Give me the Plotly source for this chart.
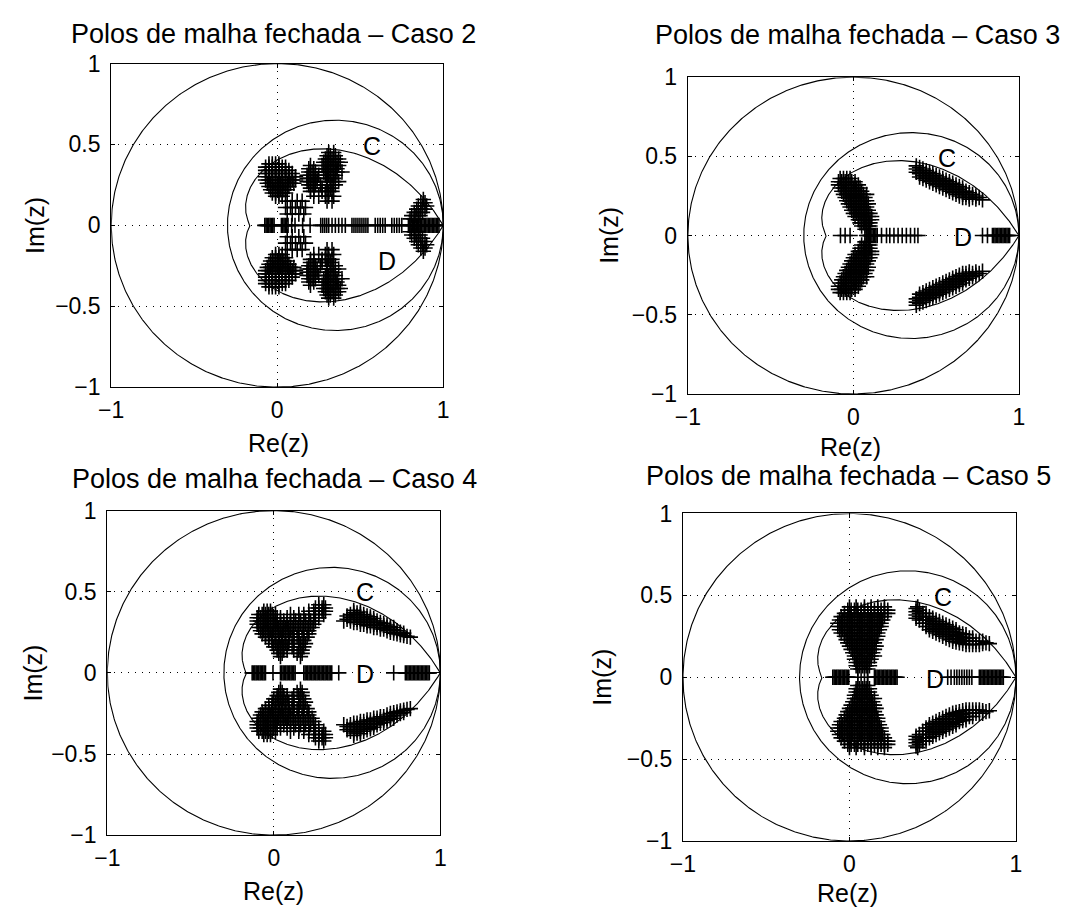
import numpy as np
import plotly.graph_objects as go

W, H = 1076, 923

# ---------------- text / ticks ----------------
case_names = ["Caso 2", "Caso 3", "Caso 4", "Caso 5"]
title_prefix = "Polos de malha fechada – "
x_label = "Re(z)"
y_label = "Im(z)"
x_tickvals = [-1, 0, 1]
x_ticktext = ["−1", "0", "1"]
y_tickvals = [-1, -0.5, 0, 0.5, 1]
y_ticktext = ["−1", "−0.5", "0", "0.5", "1"]

# ---------------- region boundaries ----------------
disk_C_center = 0.35
disk_C_radius = 0.65
zeta_D = 0.5

# region labels (Re, Im) per case
label_C = [(0.57, 0.49), (0.565, 0.49), (0.55, 0.50), (0.56, 0.49)]
label_D = [(0.66, -0.22), (0.66, -0.01), (0.55, -0.01), (0.515, -0.01)]

# ---------------- closed-loop poles ----------------
# rows: (Im, [Re...]) upper half-plane, cols: (Re, [Im...]); conjugates are added
case2_rows = [
    (0.38, [-0.05, -0.03, -0.01, 0.01]),
    (0.36, [-0.07, -0.05, -0.03, -0.01, 0.01, 0.03, 0.05]),
    (0.34, [-0.07, -0.05, -0.03, -0.01, 0.01, 0.03, 0.05, 0.07]),
    (0.32, [-0.07, -0.05, -0.03, -0.01, 0.01, 0.03, 0.05, 0.07, 0.09]),
    (0.30, [-0.07, -0.05, -0.03, -0.01, 0.01, 0.03, 0.05, 0.07, 0.09, 0.11]),
    (0.28, [-0.07, -0.05, -0.03, -0.01, 0.01, 0.03, 0.05, 0.07, 0.09, 0.11]),
    (0.26, [-0.06, -0.04, -0.02, 0.0, 0.02, 0.04, 0.06, 0.08, 0.10]),
    (0.24, [-0.05, -0.03, -0.01, 0.01, 0.03, 0.05, 0.07]),
    (0.22, [-0.04, -0.02, 0.0, 0.02, 0.04, 0.06]),
    (0.20, [-0.03, -0.01, 0.01, 0.03, 0.05]),
    (0.18, [-0.01, 0.01, 0.03]),
    (0.45, [0.31, 0.34]),
    (0.43, [0.30, 0.32, 0.35]),
    (0.41, [0.29, 0.31, 0.33, 0.35, 0.37]),
    (0.39, [0.28, 0.30, 0.32, 0.34, 0.36, 0.38]),
    (0.37, [0.20, 0.27, 0.29, 0.31, 0.33, 0.35, 0.37]),
    (0.35, [0.19, 0.22, 0.28, 0.30, 0.32, 0.34, 0.36]),
    (0.33, [0.19, 0.21, 0.23, 0.28, 0.30, 0.32, 0.34, 0.36, 0.39]),
    (0.31, [0.18, 0.20, 0.22, 0.25, 0.29, 0.31, 0.33, 0.35]),
    (0.29, [0.18, 0.20, 0.22, 0.24, 0.30, 0.32, 0.34]),
    (0.27, [0.18, 0.20, 0.22, 0.24, 0.30, 0.32, 0.34, 0.37]),
    (0.25, [0.19, 0.21, 0.23, 0.26, 0.30, 0.33, 0.35]),
    (0.23, [0.20, 0.22, 0.27, 0.30, 0.32]),
    (0.21, [0.20, 0.22, 0.27, 0.29, 0.31, 0.33]),
    (0.18, [0.22, 0.25, 0.29, 0.31, 0.34]),
    (0.15, [0.30, 0.33]),
    (0.15, [0.06, 0.09, 0.12, 0.15]),
    (0.11, [0.05, 0.08, 0.11, 0.14, 0.17]),
    (0.07, [0.06, 0.09, 0.13, 0.16]),
    (0.16, [0.88]),
    (0.14, [0.865, 0.89]),
    (0.12, [0.85, 0.875, 0.90]),
    (0.10, [0.84, 0.865, 0.89]),
    (0.08, [0.825, 0.85, 0.875]),
    (0.06, [0.81, 0.835, 0.86]),
    (0.04, [0.80, 0.825, 0.85]),
]
case2_cols = []
case2_real = [-0.075, -0.067, -0.059, -0.051, -0.043, -0.035, -0.027, -0.019,
              0.025, 0.033, 0.041, 0.049, 0.057, 0.065, 0.087, 0.107, 0.153, 0.198,
              0.262, 0.274, 0.286, 0.298, 0.31, 0.33, 0.35, 0.37, 0.39, 0.41,
              0.45, 0.462, 0.474, 0.486, 0.498, 0.51, 0.522, 0.534, 0.546,
              0.59, 0.605, 0.62, 0.635, 0.65, 0.69, 0.705, 0.72, 0.735, 0.75,
              0.79, 0.798, 0.806, 0.814, 0.822, 0.83, 0.838, 0.846, 0.854, 0.862,
              0.87, 0.878, 0.886, 0.894, 0.902, 0.91, 0.918, 0.926, 0.934, 0.942,
              0.95, 0.958, 0.966, 0.974]

case3_rows = [
    (0.36, [-0.08, -0.06, -0.04, -0.02]),
    (0.34, [-0.09, -0.07, -0.05, -0.03, -0.01, 0.01]),
    (0.32, [-0.09, -0.07, -0.05, -0.03, -0.01, 0.01, 0.03]),
    (0.30, [-0.08, -0.06, -0.04, -0.02, 0.0, 0.02, 0.04]),
    (0.28, [-0.07, -0.05, -0.03, -0.01, 0.01, 0.03, 0.05]),
    (0.26, [-0.06, -0.04, -0.02, 0.0, 0.02, 0.04, 0.06, 0.08]),
    (0.24, [-0.05, -0.03, -0.01, 0.01, 0.03, 0.05, 0.07]),
    (0.22, [-0.04, -0.02, 0.0, 0.02, 0.04, 0.06, 0.08]),
    (0.20, [-0.03, -0.01, 0.01, 0.03, 0.05, 0.07, 0.09]),
    (0.18, [-0.02, 0.0, 0.02, 0.04, 0.06, 0.08]),
    (0.16, [-0.01, 0.01, 0.03, 0.05, 0.07, 0.09]),
    (0.14, [0.0, 0.02, 0.04, 0.06, 0.08, 0.10]),
    (0.12, [0.01, 0.03, 0.05, 0.07, 0.09, 0.11]),
    (0.10, [0.03, 0.05, 0.07, 0.09, 0.11]),
    (0.08, [0.04, 0.06, 0.08, 0.10]),
    (0.06, [0.05, 0.07, 0.09, 0.10]),
    (0.04, [0.07, 0.09]),
]
case3_cols = [
    (0.38, [0.44, 0.42, 0.40]),
    (0.40, [0.43, 0.41, 0.39, 0.37]),
    (0.42, [0.42, 0.40, 0.38, 0.36]),
    (0.44, [0.41, 0.39, 0.37, 0.35]),
    (0.46, [0.40, 0.38, 0.36, 0.34]),
    (0.48, [0.39, 0.37, 0.35, 0.33]),
    (0.50, [0.38, 0.36, 0.34, 0.32]),
    (0.52, [0.37, 0.35, 0.33, 0.31]),
    (0.54, [0.36, 0.34, 0.32, 0.30]),
    (0.56, [0.35, 0.33, 0.31, 0.29]),
    (0.58, [0.34, 0.32, 0.30, 0.28]),
    (0.60, [0.33, 0.31, 0.29, 0.27]),
    (0.62, [0.32, 0.30, 0.28, 0.26]),
    (0.64, [0.31, 0.29, 0.27, 0.25]),
    (0.66, [0.30, 0.28, 0.26, 0.24]),
    (0.68, [0.28, 0.26, 0.24]),
    (0.70, [0.27, 0.25, 0.23]),
    (0.72, [0.26, 0.24]),
    (0.74, [0.25, 0.23]),
    (0.76, [0.24]),
    (0.78, [0.225]),
]
case3_real = [-0.078, -0.05, -0.02, 0.08, 0.088, 0.096, 0.104, 0.112, 0.12, 0.128,
              0.136, 0.144, 0.17, 0.20, 0.22, 0.245, 0.27, 0.295, 0.32, 0.345, 0.37,
              0.39, 0.78, 0.81, 0.84, 0.848, 0.856, 0.864, 0.872, 0.88, 0.888, 0.896,
              0.904, 0.912, 0.92, 0.928, 0.936, 0.944]

case4_rows = [
    (0.42, [0.27, 0.30]),
    (0.40, [0.25, 0.27, 0.29, 0.31]),
    (0.38, [-0.06, -0.04, -0.02, 0.21, 0.24, 0.27, 0.29, 0.31]),
    (0.36, [-0.09, -0.07, -0.05, -0.03, -0.01, 0.01, 0.10, 0.15, 0.18, 0.21, 0.24, 0.27,
            0.30]),
    (0.34, [-0.10, -0.08, -0.06, -0.04, -0.02, 0.0, 0.02, 0.04, 0.08, 0.12, 0.15, 0.18,
            0.21, 0.24, 0.27]),
    (0.32, [-0.10, -0.08, -0.06, -0.04, -0.02, 0.0, 0.02, 0.04, 0.06, 0.08, 0.10, 0.13,
            0.16, 0.19, 0.22, 0.25]),
    (0.30, [-0.10, -0.08, -0.06, -0.04, -0.02, 0.0, 0.02, 0.04, 0.06, 0.08, 0.10, 0.13,
            0.16, 0.19, 0.22, 0.24]),
    (0.28, [-0.09, -0.07, -0.05, -0.03, -0.01, 0.01, 0.03, 0.05, 0.07, 0.09, 0.11, 0.14,
            0.17, 0.20, 0.23]),
    (0.26, [-0.08, -0.06, -0.04, -0.02, 0.0, 0.02, 0.04, 0.06, 0.08, 0.10, 0.12, 0.15,
            0.18, 0.21]),
    (0.24, [-0.07, -0.05, -0.03, -0.01, 0.01, 0.03, 0.05, 0.07, 0.09, 0.12, 0.15, 0.18,
            0.21]),
    (0.22, [-0.05, -0.03, -0.01, 0.01, 0.03, 0.05, 0.07, 0.09, 0.11, 0.14, 0.17, 0.20]),
    (0.20, [-0.03, -0.01, 0.01, 0.03, 0.05, 0.07, 0.09, 0.12, 0.15, 0.18]),
    (0.18, [-0.01, 0.01, 0.03, 0.05, 0.07, 0.09, 0.12, 0.16, 0.19]),
    (0.16, [0.0, 0.02, 0.04, 0.06, 0.08, 0.11, 0.15, 0.18]),
    (0.14, [0.02, 0.04, 0.06, 0.08, 0.12, 0.15, 0.17]),
    (0.12, [0.03, 0.05, 0.14, 0.17]),
    (0.10, [0.04, 0.16]),
]
case4_cols = [
    (0.42, [0.32]),
    (0.44, [0.33, 0.35]),
    (0.46, [0.32, 0.34, 0.36]),
    (0.48, [0.31, 0.33, 0.35, 0.37, 0.385]),
    (0.50, [0.31, 0.33, 0.35, 0.37]),
    (0.52, [0.30, 0.32, 0.34, 0.36, 0.375]),
    (0.54, [0.30, 0.32, 0.34, 0.36]),
    (0.56, [0.29, 0.31, 0.33, 0.35]),
    (0.58, [0.29, 0.31, 0.33, 0.345]),
    (0.60, [0.28, 0.30, 0.32, 0.335]),
    (0.62, [0.28, 0.30, 0.32]),
    (0.64, [0.27, 0.29, 0.31]),
    (0.66, [0.27, 0.29, 0.305]),
    (0.68, [0.26, 0.28, 0.295]),
    (0.70, [0.25, 0.27, 0.285]),
    (0.72, [0.245, 0.265, 0.28]),
    (0.74, [0.24, 0.26]),
    (0.76, [0.235, 0.25]),
    (0.78, [0.23, 0.245]),
    (0.80, [0.225]),
    (0.82, [0.22]),
]
case4_real = [-0.13, -0.122, -0.114, -0.106, -0.098, -0.09, -0.082, -0.074, -0.066,
              -0.058, -0.05, -0.005,
              0.04, 0.048, 0.056, 0.064, 0.072, 0.08, 0.088, 0.096, 0.104, 0.112, 0.12,
              0.128,
              0.18, 0.188, 0.196, 0.204, 0.212, 0.22, 0.228, 0.236, 0.244, 0.252, 0.26,
              0.268, 0.276, 0.284, 0.292, 0.30, 0.308, 0.316, 0.324, 0.332, 0.34, 0.348,
              0.39, 0.72,
              0.79, 0.798, 0.806, 0.814, 0.822, 0.83, 0.838, 0.846, 0.854, 0.862, 0.87,
              0.878, 0.886, 0.894, 0.902, 0.91, 0.918, 0.926, 0.934]

case5_rows = [
    (0.43, [0.0, 0.04, 0.09, 0.13, 0.17, 0.21]),
    (0.41, [-0.01, 0.01, 0.03, 0.05, 0.07, 0.09, 0.11, 0.13, 0.15, 0.17, 0.19, 0.21, 0.23]),
    (0.39, [-0.03, -0.01, 0.01, 0.03, 0.05, 0.07, 0.09, 0.11, 0.13, 0.15, 0.17, 0.19, 0.21,
            0.23]),
    (0.37, [-0.05, -0.03, -0.01, 0.01, 0.03, 0.05, 0.07, 0.09, 0.11, 0.13, 0.15, 0.17, 0.19,
            0.21]),
    (0.35, [-0.06, -0.04, -0.02, 0.0, 0.02, 0.04, 0.06, 0.08, 0.10, 0.12, 0.14, 0.16, 0.18,
            0.20]),
    (0.33, [-0.07, -0.05, -0.03, -0.01, 0.01, 0.03, 0.05, 0.07, 0.09, 0.11, 0.13, 0.15,
            0.17, 0.19]),
    (0.31, [-0.07, -0.05, -0.03, -0.01, 0.01, 0.03, 0.05, 0.07, 0.09, 0.11, 0.13, 0.15,
            0.17, 0.19]),
    (0.29, [-0.06, -0.04, -0.02, 0.0, 0.02, 0.04, 0.06, 0.08, 0.10, 0.12, 0.14, 0.16, 0.18]),
    (0.27, [-0.05, -0.03, -0.01, 0.01, 0.03, 0.05, 0.07, 0.09, 0.11, 0.13, 0.15, 0.17]),
    (0.25, [-0.03, -0.01, 0.01, 0.03, 0.05, 0.07, 0.09, 0.11, 0.13, 0.15, 0.17]),
    (0.23, [-0.02, 0.0, 0.02, 0.04, 0.06, 0.08, 0.10, 0.12, 0.14, 0.16]),
    (0.21, [-0.01, 0.01, 0.03, 0.05, 0.07, 0.09, 0.11, 0.13, 0.15]),
    (0.19, [0.0, 0.02, 0.04, 0.06, 0.08, 0.10, 0.12, 0.14, 0.16]),
    (0.17, [0.01, 0.03, 0.05, 0.07, 0.09, 0.11, 0.13, 0.15]),
    (0.15, [0.02, 0.04, 0.06, 0.08, 0.10, 0.12, 0.14]),
    (0.13, [0.03, 0.05, 0.07, 0.09, 0.11, 0.13, 0.15]),
    (0.11, [0.03, 0.05, 0.07, 0.09, 0.11, 0.13]),
    (0.09, [0.04, 0.06, 0.08, 0.10, 0.12]),
    (0.07, [0.04, 0.06, 0.08, 0.10, 0.12]),
    (0.05, [0.05, 0.07, 0.09, 0.11]),
]
case5_cols = [
    (0.41, [0.43]),
    (0.40, [0.36, 0.38, 0.40, 0.42]),
    (0.42, [0.35, 0.37, 0.39, 0.41]),
    (0.44, [0.33, 0.35, 0.37, 0.39]),
    (0.46, [0.31, 0.33, 0.35, 0.37, 0.39]),
    (0.48, [0.29, 0.31, 0.33, 0.35, 0.37]),
    (0.50, [0.28, 0.30, 0.32, 0.34, 0.36]),
    (0.52, [0.27, 0.29, 0.31, 0.33, 0.35]),
    (0.54, [0.26, 0.28, 0.30, 0.32, 0.34]),
    (0.56, [0.25, 0.27, 0.29, 0.31, 0.33]),
    (0.58, [0.24, 0.26, 0.28, 0.30, 0.32]),
    (0.60, [0.23, 0.25, 0.27, 0.29, 0.31]),
    (0.62, [0.22, 0.24, 0.26, 0.28, 0.30]),
    (0.64, [0.215, 0.235, 0.255, 0.275, 0.29]),
    (0.66, [0.21, 0.23, 0.25, 0.27]),
    (0.68, [0.205, 0.225, 0.245, 0.265]),
    (0.70, [0.20, 0.22, 0.24, 0.26]),
    (0.72, [0.20, 0.22, 0.24]),
    (0.74, [0.20, 0.22, 0.24]),
    (0.76, [0.20, 0.22]),
    (0.78, [0.20, 0.22]),
    (0.80, [0.205, 0.22]),
    (0.82, [0.21]),
    (0.84, [0.205]),
]
case5_real = [-0.10, -0.092, -0.084, -0.076, -0.068, -0.06, -0.052, -0.044, -0.036,
              -0.028, -0.02, -0.012, -0.004, 0.05, 0.108,
              0.15, 0.158, 0.166, 0.174, 0.182, 0.19, 0.198, 0.206, 0.214, 0.222, 0.23,
              0.238, 0.246, 0.254, 0.262, 0.27, 0.278, 0.286,
              0.59, 0.61, 0.63, 0.645, 0.66, 0.675, 0.69, 0.705, 0.72, 0.735,
              0.78, 0.788, 0.796, 0.804, 0.812, 0.82, 0.828, 0.836, 0.844, 0.852, 0.86,
              0.868, 0.876, 0.884, 0.892, 0.90, 0.908, 0.916, 0.924]

cases = [
    (case2_rows, case2_cols, case2_real),
    (case3_rows, case3_cols, case3_real),
    (case4_rows, case4_cols, case4_real),
    (case5_rows, case5_cols, case5_real),
]

# ---------------- layout geometry (pixels) ----------------
frames = [(100, 438, 52, 385), (687, 1024, 66, 392), (96, 435, 512, 846), (682, 1021, 515, 852)]
title_pos = [(265, 22), (860, 23), (266, 480), (851, 476)]
xlabel_pos = [(270, 442), (853, 447), (265, 903), (849, 906)]
ylabel_x = [23, 606, 20, 600]

FONT = "Liberation Sans, Arial, Helvetica, sans-serif"


def poles(rows, cols, real):
    xs, ys = [], []
    for im, res in rows:
        for re in res:
            xs += [re, re]
            ys += [im, -im]
    for re, ims in cols:
        for im in ims:
            xs += [re, re]
            ys += [im, -im]
    for re in real:
        xs.append(re)
        ys.append(0.0)
    return xs, ys


t = np.linspace(0, 2 * np.pi, 721)
unit_x, unit_y = np.cos(t), np.sin(t)
C_x = disk_C_center + disk_C_radius * np.cos(t)
C_y = disk_C_radius * np.sin(t)
th = np.linspace(0, np.pi, 400)
rad = np.exp(-th * zeta_D / np.sqrt(1 - zeta_D ** 2))
D_x = np.concatenate([rad * np.cos(th), (rad * np.cos(th))[::-1]])
D_y = np.concatenate([rad * np.sin(th), -(rad * np.sin(th))[::-1]])

fig = go.Figure()
annotations = []
layout_axes = {}

for i, (name, (rows, cols, real)) in enumerate(zip(case_names, cases)):
    n = i + 1
    xa = "x" if n == 1 else f"x{n}"
    ya = "y" if n == 1 else f"y{n}"
    line = dict(color="black", width=1.1)
    for cx, cy in [(unit_x, unit_y), (C_x, C_y), (D_x, D_y)]:
        fig.add_trace(go.Scatter(x=cx, y=cy, mode="lines", line=line, xaxis=xa, yaxis=ya,
                                 showlegend=False, hoverinfo="skip"))
    px, py = poles(rows, cols, real)
    fig.add_trace(go.Scatter(x=px, y=py, mode="markers", xaxis=xa, yaxis=ya, showlegend=False,
                             marker=dict(symbol="cross-thin-open", size=11, color="black",
                                         line=dict(color="black", width=1.6))))

    l, r, tp, b = frames[i]
    common = dict(showline=True, linecolor="black", linewidth=1.2, mirror="ticks",
                  ticks="inside", ticklen=4, tickcolor="black", showgrid=True,
                  gridcolor="black", gridwidth=1, griddash="1px,6px", zeroline=False,
                  tickfont=dict(family=FONT, size=23, color="black"), range=[-1, 1],
                  fixedrange=True)
    layout_axes["xaxis" if n == 1 else f"xaxis{n}"] = dict(
        common, domain=[l / W, r / W], anchor=ya, tickvals=x_tickvals, ticktext=x_ticktext,
        ticklabelstandoff=2)
    layout_axes["yaxis" if n == 1 else f"yaxis{n}"] = dict(
        common, domain=[1 - b / H, 1 - tp / H], anchor=xa, tickvals=y_tickvals,
        ticktext=y_ticktext, ticklabelstandoff=5)

    tx, ty = title_pos[i]
    annotations.append(dict(text=title_prefix + name, x=tx / W, y=1 - ty / H, xref="paper",
                            yref="paper", showarrow=False, xanchor="center", yanchor="middle",
                            font=dict(family=FONT, size=27, color="black")))
    lx, ly = xlabel_pos[i]
    annotations.append(dict(text=x_label, x=lx / W, y=1 - ly / H, xref="paper", yref="paper",
                            showarrow=False, xanchor="center", yanchor="middle",
                            font=dict(family=FONT, size=25, color="black")))
    annotations.append(dict(text=y_label, x=ylabel_x[i] / W, y=1 - (tp + b) / 2 / H,
                            xref="paper", yref="paper", showarrow=False, textangle=-90,
                            xanchor="center", yanchor="middle",
                            font=dict(family=FONT, size=25, color="black")))
    for (ax_, ay_), txt in [(label_C[i], "C"), (label_D[i], "D")]:
        annotations.append(dict(text=txt, x=ax_, y=ay_, xref=xa, yref=ya, showarrow=False,
                                xanchor="center", yanchor="middle",
                                font=dict(family=FONT, size=25, color="black")))

fig.update_layout(width=W, height=H, margin=dict(l=0, r=0, t=0, b=0), autosize=False,
                  paper_bgcolor="white", plot_bgcolor="white", annotations=annotations,
                  showlegend=False, **layout_axes)

fig.write_html("out.html", config={"displayModeBar": False})
